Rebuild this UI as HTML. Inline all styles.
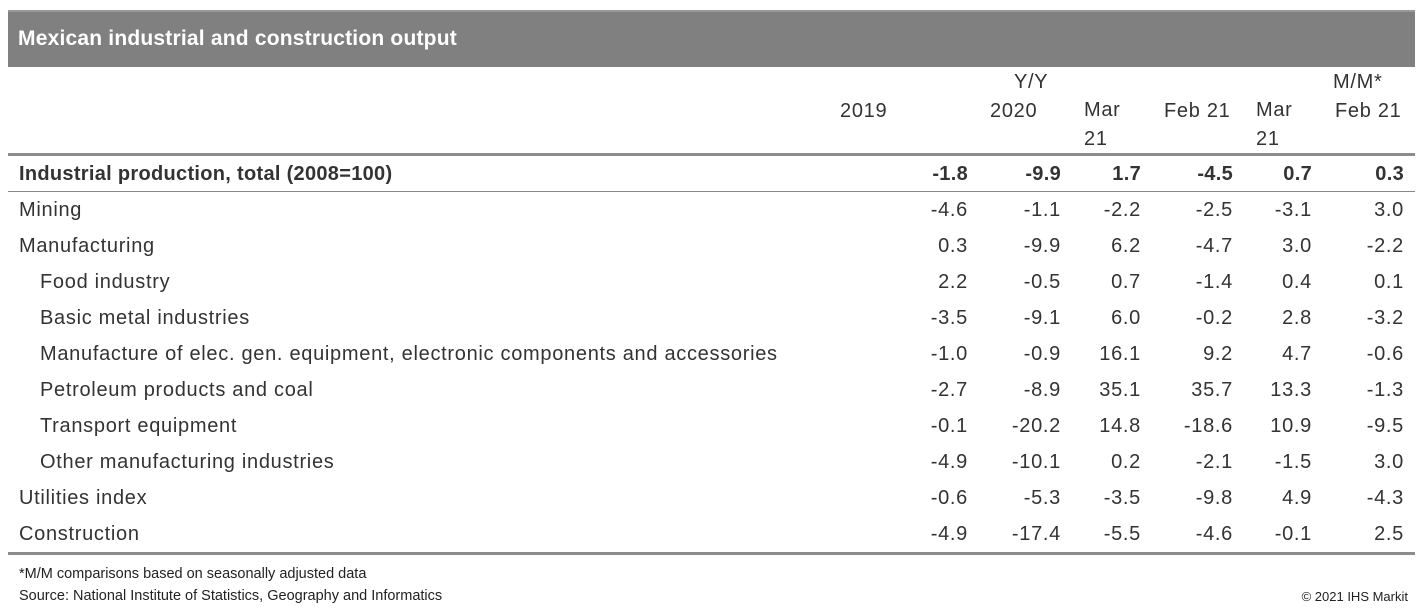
<!DOCTYPE html>
<html><head><meta charset="utf-8">
<style>
body{margin:0;width:1423px;height:616px;background:#fff;position:relative;overflow:hidden;font-family:"Liberation Sans",sans-serif;color:#333}
.abs{position:absolute;white-space:nowrap}
.t{font-size:20px;line-height:22px;letter-spacing:0.7px}
.r{text-align:right}
.f{font-size:14.5px;color:#222;font-family:"Liberation Sans",sans-serif}
</style></head><body>
<div class="abs" style="left:8px;top:10px;width:1407px;height:55px;background:#808080;border-top:2px solid #999"></div>
<div class="abs" style="left:18px;top:27px;font-size:21px;font-weight:bold;color:#fff;letter-spacing:0.2px">Mexican industrial and construction output</div>

<div class="abs t" style="left:1014px;top:71px">Y/Y</div>
<div class="abs t" style="left:1333px;top:71px">M/M*</div>
<div class="abs t" style="left:840px;top:100px">2019</div>
<div class="abs t" style="left:990px;top:100px">2020</div>
<div class="abs t" style="left:1084px;top:100px;line-height:29px;margin-top:-4px">Mar<br>21</div>
<div class="abs t" style="left:1164px;top:100px">Feb 21</div>
<div class="abs t" style="left:1256px;top:100px;line-height:29px;margin-top:-4px">Mar<br>21</div>
<div class="abs t" style="left:1335px;top:100px">Feb 21</div>

<div class="abs" style="left:8px;top:153px;width:1407px;height:3px;background:#8c8c8c"></div>
<div class="abs" style="left:8px;top:191px;width:1407px;height:1px;background:#888"></div>
<div class="abs" style="left:8px;top:552px;width:1407px;height:3px;background:#8c8c8c"></div>

<div id="rows"></div>

<div class="abs f" style="left:19px;top:566px">*M/M comparisons based on seasonally adjusted data</div>
<div class="abs f" style="left:19px;top:588px">Source: National Institute of Statistics, Geography and Informatics</div>
<div class="abs f" style="right:15px;top:589px;font-size:13px">© 2021 IHS Markit</div>

<script>
const labels=["Industrial production, total (2008=100)","Mining","Manufacturing","Food industry","Basic metal industries","Manufacture of elec. gen. equipment, electronic components and accessories","Petroleum products and coal","Transport equipment","Other manufacturing industries","Utilities index","Construction"];
const indent=[0,0,0,1,1,1,1,1,1,0,0];
const v2019=["-1.8","-4.6","0.3","2.2","-3.5","-1.0","-2.7","-0.1","-4.9","-0.6","-4.9"];
const v2020=["-9.9","-1.1","-9.9","-0.5","-9.1","-0.9","-8.9","-20.2","-10.1","-5.3","-17.4"];
const vMarYY=["1.7","-2.2","6.2","0.7","6.0","16.1","35.1","14.8","0.2","-3.5","-5.5"];
const vFebYY=["-4.5","-2.5","-4.7","-1.4","-0.2","9.2","35.7","-18.6","-2.1","-9.8","-4.6"];
const vMarMM=["0.7","-3.1","3.0","0.4","2.8","4.7","13.3","10.9","-1.5","4.9","-0.1"];
const vFebMM=["0.3","3.0","-2.2","0.1","-3.2","-0.6","-1.3","-9.5","3.0","-4.3","2.5"];
const cols=[v2019,v2020,vMarYY,vFebYY,vMarMM,vFebMM];
const colRight=[968,1061,1141,1233,1312,1404];
const box=document.getElementById('rows');
labels.forEach((lab,i)=>{
  const top=163+i*36;
  const bold=i===0?'font-weight:bold;letter-spacing:0.3px;':'';
  const d=document.createElement('div');
  
  
  d.className='abs t';
  d.style.cssText='left:'+(indent[i]?40:19)+'px;top:'+top+'px;'+bold;
  d.textContent=lab;
  box.appendChild(d);
  cols.forEach((c,j)=>{
    const e=document.createElement('div');
    
    
    e.className='abs t r';
    e.style.cssText='right:'+(1423-colRight[j])+'px;top:'+top+'px;'+bold;
    e.textContent=c[i];
    box.appendChild(e);
  });
});
</script>
</body></html>
